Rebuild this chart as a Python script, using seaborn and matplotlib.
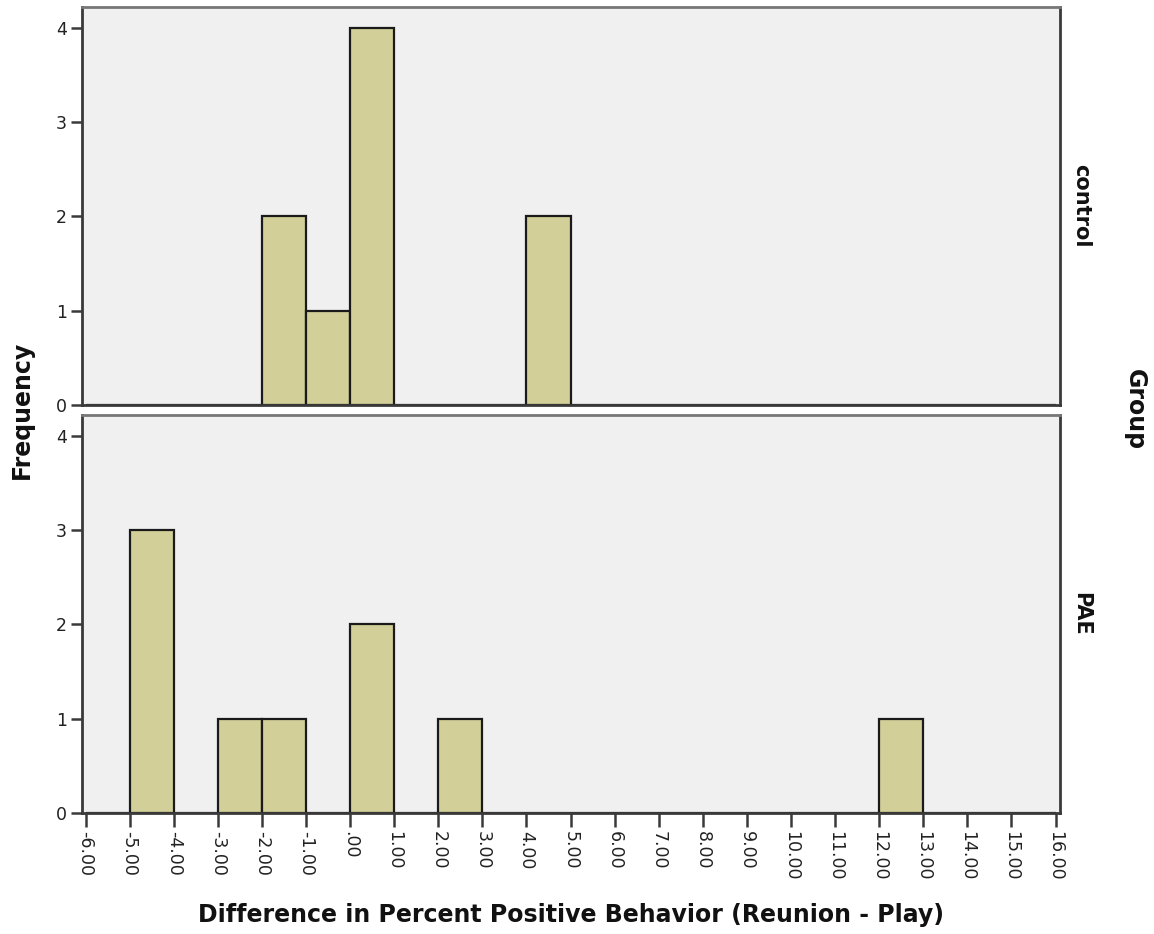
import numpy as np
import pandas as pd
import matplotlib
matplotlib.use("Agg")
import matplotlib.pyplot as plt
import seaborn as sns

# Histogram bins (width 1) and frequencies per group
bin_edges = list(range(-6, 17))
control_counts = [0, 0, 0, 0, 2, 1, 4, 0, 0, 0, 2, 0, 0, 0, 0, 0, 0, 0, 0, 0, 0, 0]
pae_counts = [0, 3, 0, 1, 1, 0, 2, 0, 1, 0, 0, 0, 0, 0, 0, 0, 0, 0, 1, 0, 0, 0]
groups = ["control", "PAE"]
tick_values = list(range(-6, 17))
tick_labels = [("%.2f" % v).replace("0.00", ".00") if v == 0 else "%.2f" % v for v in tick_values]

sns.set_style("white")
plt.rcParams["font.family"] = ["DejaVu Sans"]

W, H = 1154, 934
fig = plt.figure(figsize=(W / 100, H / 100), dpi=100)

bar_color = "#d3cf98"
bg_color = "#f0f0f0"
spine_color = "#3a3a3a"

panels = [(7, 405), (415, 813)]
left_px, right_px = 82, 1060
axes = []
for (top, bottom), name, counts in zip(panels, groups, [control_counts, pae_counts]):
    ax = fig.add_axes([left_px / W, 1 - bottom / H, (right_px - left_px) / W, (bottom - top) / H])
    centers = [e + 0.5 for e in bin_edges[:-1]]
    df = pd.DataFrame({"value": centers, "count": counts})
    sns.histplot(data=df, x="value", weights="count", bins=bin_edges, ax=ax,
                 color=bar_color, alpha=1, edgecolor="#1a1a1a", linewidth=1.6)
    ax.set_facecolor(bg_color)
    ax.set_xlim(-6.08, 16.1)
    ax.set_ylim(0, 4.22)
    ax.set_yticks([0, 1, 2, 3, 4])
    ax.set_yticklabels(["0", "1", "2", "3", "4"], fontsize=12.5, color="#222222")
    ax.set_xlabel("")
    ax.set_ylabel("")
    for s in ax.spines.values():
        s.set_visible(True)
        s.set_color(spine_color)
        s.set_linewidth(2)
    ax.spines["top"].set_color("#777777")
    ax.tick_params(axis="y", direction="out", length=8, width=1.8, color=spine_color, pad=3, left=True)
    ax.text(1.022, 0.5, name, transform=ax.transAxes, rotation=-90, ha="center", va="center",
            fontsize=15, fontweight="bold", color="#111111")
    axes.append(ax)

axes[0].set_xticks([])
ax = axes[1]
ax.set_xticks(tick_values)
ax.set_xticklabels(tick_labels, rotation=-90, fontsize=12.5, color="#222222", va="top", ha="center")
ax.tick_params(axis="x", direction="out", length=10, width=1.8, color=spine_color, pad=3, bottom=True)

fig.text(22 / W, 1 - 410 / H, "Frequency", rotation=90, ha="center", va="center",
         fontsize=17, fontweight="bold", color="#111111")
fig.text(1135 / W, 1 - 410 / H, "Group", rotation=-90, ha="center", va="center",
         fontsize=17, fontweight="bold", color="#111111")
fig.text(571 / W, 1 - 915 / H, "Difference in Percent Positive Behavior (Reunion - Play)",
         ha="center", va="center", fontsize=17, fontweight="bold", color="#111111")

fig.savefig("out.png", dpi=100, facecolor="white")
